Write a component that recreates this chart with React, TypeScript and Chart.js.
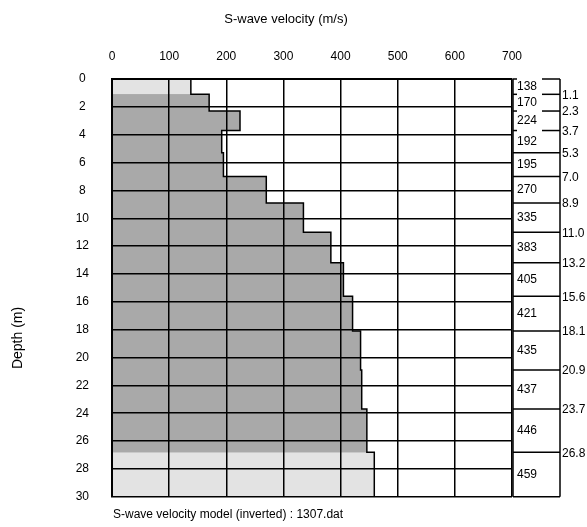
import React, { useEffect, useRef } from "react";
import { Chart, registerables } from "chart.js";

Chart.register(...registerables);

// ---- data ----
const layerTops = [0, 1.1, 2.3, 3.7, 5.3, 7.0, 8.9, 11.0, 13.2, 15.6, 18.1, 20.9, 23.7, 26.8];
const velocities = [138, 170, 224, 192, 195, 270, 335, 383, 405, 421, 435, 437, 446, 459];
const maxDepth = 30;
const velocityMin = 0;
const velocityMax = 700;
const velocityStep = 100;
const depthStep = 2;
const depthLabels = ["1.1", "2.3", "3.7", "5.3", "7.0", "8.9", "11.0", "13.2", "15.6", "18.1", "20.9", "23.7", "26.8"];

const titleText = "S-wave velocity (m/s)";
const yTitleText = "Depth (m)";
const captionText = "S-wave velocity model (inverted) : 1307.dat";

const FONT = "'Liberation Sans', Arial, sans-serif";
const DARK = "#a9a9a9";
const LIGHT = "#e3e3e3";

const layerBottoms = layerTops.slice(1).concat(maxDepth);
const profile = velocities.flatMap((v, i) => [
  { x: v, y: layerTops[i] },
  { x: v, y: layerBottoms[i] },
]);
const last = velocities.length - 1;
const topLayer = [
  { x: velocities[0], y: layerTops[0] },
  { x: velocities[0], y: layerBottoms[0] },
];
const bottomLayer = [
  { x: velocities[last], y: layerTops[last] },
  { x: velocities[last], y: layerBottoms[last] },
];

const textPlugin = {
  id: "texts",
  afterDraw(chart: any) {
    const { ctx, chartArea } = chart;
    ctx.save();
    ctx.fillStyle = "#000";
    ctx.font = `13px ${FONT}`;
    ctx.textAlign = "center";
    ctx.textBaseline = "middle";
    ctx.fillText(titleText, 286, 19);

    ctx.font = `14px ${FONT}`;
    ctx.save();
    ctx.translate(18, 338);
    ctx.rotate(-Math.PI / 2);
    ctx.fillText(yTitleText, 0, 0);
    ctx.restore();

    ctx.font = `12px ${FONT}`;
    ctx.textAlign = "left";
    ctx.fillText(captionText, chartArea.left + 1, 515);
    ctx.restore();
  },
};

const sidePlugin = {
  id: "side",
  afterDraw(chart: any) {
    const { ctx, chartArea, scales } = chart;
    const ys = scales.y;
    const x0 = chartArea.right + 1;
    const x1 = x0 + 47;
    const top = ys.getPixelForValue(0);
    const bottom = ys.getPixelForValue(maxDepth);
    ctx.save();
    ctx.strokeStyle = "#000";
    ctx.lineWidth = 1.5;
    const line = (ax: number, ay: number, bx: number, by: number) => {
      ctx.beginPath();
      ctx.moveTo(ax, ay);
      ctx.lineTo(bx, by);
      ctx.stroke();
    };
    line(x0, top, x0, bottom);
    line(x1, top, x1, bottom);
    const bounds = [...layerTops, maxDepth];
    bounds.forEach((d, i) => {
      const y = ys.getPixelForValue(d);
      const above = i > 0 ? bounds[i] - bounds[i - 1] : Infinity;
      const below = i < bounds.length - 1 ? bounds[i + 1] - bounds[i] : Infinity;
      const partial = Math.min(above, below) < 1.5;
      if (partial) {
        line(x0, y, x0 + 4, y);
        line(x0 + 29, y, x1, y);
      } else {
        line(x0, y, x1, y);
      }
    });
    ctx.fillStyle = "#000";
    ctx.font = `12px ${FONT}`;
    ctx.textAlign = "left";
    ctx.textBaseline = "middle";
    velocities.forEach((v, i) => {
      const y = ys.getPixelForValue((layerTops[i] + layerBottoms[i]) / 2);
      ctx.fillText(String(v), x0 + 4, y);
    });
    depthLabels.forEach((lab, i) => {
      const y = ys.getPixelForValue(layerTops[i + 1]);
      ctx.fillText(lab, x1 + 2, y + 1);
    });
    ctx.restore();
  },
};

export default function App() {
  const ref = useRef<HTMLCanvasElement>(null);
  useEffect(() => {
    document.body.style.margin = "0";
    const canvas = ref.current;
    if (!canvas) return;
    Chart.defaults.font.family = FONT;
    const chart = new Chart(canvas, {
      type: "line",
      data: {
        datasets: [
          {
            label: "profile",
            data: profile,
            borderColor: "#000",
            borderWidth: 1.5,
            pointRadius: 0,
            fill: false,
          },
          {
            label: "top layer",
            data: topLayer,
            borderWidth: 0,
            borderColor: "rgba(0,0,0,0)",
            backgroundColor: LIGHT,
            pointRadius: 0,
            fill: "origin",
          },
          {
            label: "bottom layer",
            data: bottomLayer,
            borderWidth: 0,
            borderColor: "rgba(0,0,0,0)",
            backgroundColor: LIGHT,
            pointRadius: 0,
            fill: "origin",
          },
          {
            label: "fill",
            data: profile,
            borderWidth: 0,
            borderColor: "rgba(0,0,0,0)",
            backgroundColor: DARK,
            pointRadius: 0,
            fill: "origin",
          },
        ],
      },
      options: {
        responsive: false,
        animation: false,
        indexAxis: "y",
        layout: { padding: { top: 0, left: 0, right: 75, bottom: 29 } },
        plugins: {
          legend: { display: false },
          tooltip: { enabled: false },
        },
        scales: {
          x: {
            type: "linear",
            position: "top",
            min: velocityMin,
            max: velocityMax,
            afterFit: (s: any) => {
              s.height = 79;
            },
            ticks: {
              stepSize: velocityStep,
              color: "#000",
              padding: 15,
              font: { size: 12 },
              maxRotation: 0,
            },
            grid: { color: "#000", lineWidth: 1.5, drawTicks: false, z: 1 },
            border: { display: true, color: "#000", width: 2, z: 1 },
          },
          y: {
            type: "linear",
            position: "left",
            reverse: true,
            min: 0,
            max: maxDepth,
            afterFit: (s: any) => {
              s.width = 112;
            },
            ticks: {
              stepSize: depthStep,
              color: "#000",
              padding: 23,
              crossAlign: "center",
              font: { size: 12 },
            },
            grid: { color: "#000", lineWidth: 1.5, drawTicks: false, z: 1 },
            border: { display: true, color: "#000", width: 2, z: 1 },
          },
        },
      },
      plugins: [sidePlugin, textPlugin],
    } as any);
    return () => chart.destroy();
  }, []);
  return <canvas ref={ref} width={587} height={527} style={{ display: "block" }} />;
}
